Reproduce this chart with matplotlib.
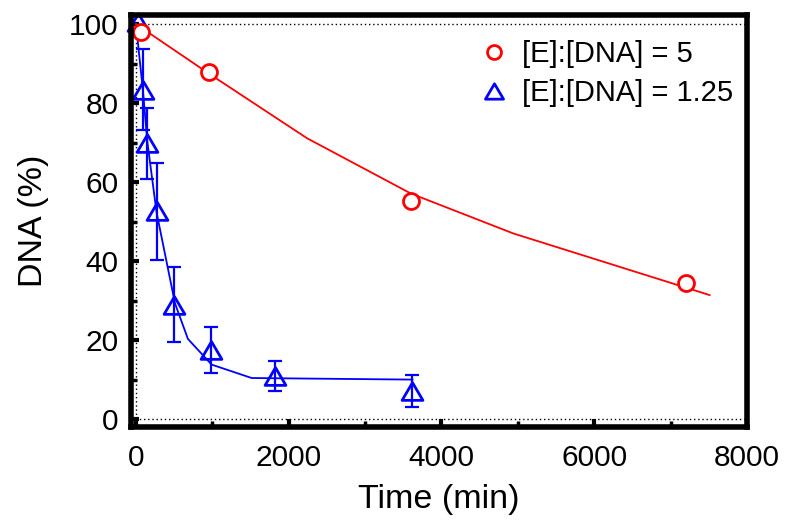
import matplotlib
matplotlib.use("Agg")
import matplotlib.pyplot as plt
from matplotlib.path import Path
from matplotlib.ticker import MultipleLocator

plt.rcParams['font.family'] = ['Liberation Sans', 'DejaVu Sans']

# data: [E]:[DNA] = 5
red_t = [60, 960, 3600, 7200]
red_y = [98, 87.8, 55.3, 34.4]
red_fit_t = [0, 960, 2240, 3600, 4940, 7510]
red_fit_y = [100, 87.4, 71.1, 57.1, 47.0, 31.4]

# data: [E]:[DNA] = 1.25
blue_t = [25, 92, 150, 270, 500, 980, 1820, 3620]
blue_y = [100.5, 83.4, 69.8, 52.6, 29.0, 17.5, 10.9, 7.1]
blue_err = [0, 10.2, 9.0, 12.2, 9.6, 5.9, 3.7, 4.0]
blue_fit_t = [0, 92, 150, 270, 511, 680, 990, 1515, 3620]
blue_fit_y = [100, 83.0, 70.0, 52.3, 29.3, 20.3, 13.8, 10.4, 10.0]

xticks = [0, 2000, 4000, 6000, 8000]
yticks = [0, 20, 40, 60, 80, 100]

fig = plt.figure(figsize=(7.86, 5.27), dpi=100)
ax = fig.add_axes([131/786, 1-427/527, (747-131)/786, (427-15)/527])

# reference dotted lines
ax.axhline(0, color='black', ls=(0, (1, 2)), lw=1.0, zorder=1)
ax.axhline(100, color='black', ls=(0, (1, 2)), lw=1.0, zorder=1)
ax.axvline(0, color='black', ls=(0, (1, 2)), lw=1.0, zorder=1)

tri = Path([(-1, -0.85), (1, -0.85), (0, 0.85), (-1, -0.85)],
           [Path.MOVETO, Path.LINETO, Path.LINETO, Path.CLOSEPOLY])

# blue series
ax.plot(blue_fit_t, blue_fit_y, color='#0000ff', lw=1.3, zorder=3)
ax.errorbar(blue_t[1:], blue_y[1:], yerr=blue_err[1:], fmt='none', ecolor='#0000ff',
            elinewidth=1.6, capsize=5, capthick=1.6, zorder=3)
ax.plot(blue_t, blue_y, ls='none', marker=tri, ms=15, mfc='none', mec='#0000ff',
        mew=2.0, zorder=4, clip_on=False)

# red series
ax.plot(red_fit_t, red_fit_y, color='#ff0000', lw=1.3, zorder=5)
ax.plot(red_t, red_y, ls='none', marker='o', ms=11.5, mfc='white', mec='#ff0000',
        mew=2.0, zorder=6, clip_on=False)

# legend proxies
h1, = ax.plot([], [], ls='none', marker='o', ms=10, mfc='none', mec='#ff0000', mew=2.0)
h2, = ax.plot([], [], ls='none', marker=tri, ms=13, mfc='none', mec='#0000ff', mew=2.0)
leg = ax.legend([h1, h2], ['[E]:[DNA] = 5', '[E]:[DNA] = 1.25'], loc='upper left',
                bbox_to_anchor=(477/786, 1-40/527), bbox_transform=fig.transFigure,
                frameon=False, fontsize=21, borderpad=0, borderaxespad=0,
                handletextpad=0.4, labelspacing=0.38, handlelength=1.15)

ax.set_xlim(-65, 8000)
ax.set_ylim(-2.0, 102.3)
ax.set_xticks(xticks)
ax.set_yticks(yticks)
ax.set_xticklabels([str(v) for v in xticks])
ax.set_yticklabels([str(v) for v in yticks])
ax.xaxis.set_minor_locator(MultipleLocator(1000))
ax.yaxis.set_minor_locator(MultipleLocator(10))

ax.tick_params(axis='both', which='major', direction='in', length=6, width=3,
               labelsize=21.5, top=False, right=False)
ax.tick_params(axis='both', which='minor', direction='in', length=4, width=2.5,
               top=False, right=False)
ax.tick_params(axis='x', which='major', pad=12)
ax.tick_params(axis='y', which='major', pad=9)

for s in ax.spines.values():
    s.set_linewidth(4.0)
    s.set_zorder(7)

ax.set_xlabel('Time (min)', fontsize=24.5, labelpad=9)
ax.set_ylabel('DNA (%)', fontsize=24.5, labelpad=14)

fig.savefig('out.png', dpi=100)
